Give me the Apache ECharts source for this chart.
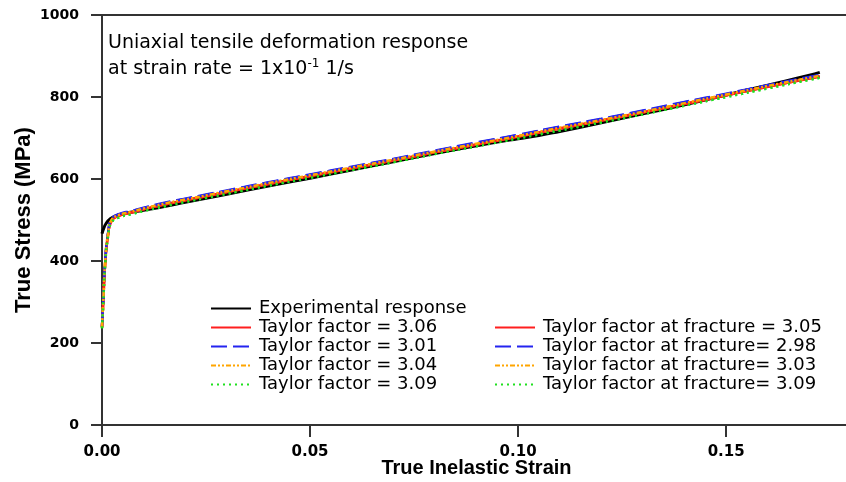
<!DOCTYPE html>
<html>
<head>
<meta charset="utf-8">
<script src="https://cdn.jsdelivr.net/npm/echarts@6/dist/echarts.min.js"></script>
<style>
html,body{margin:0;padding:0;background:#fff;}
#chart{width:846px;height:482px;}
</style>
</head>
<body>
<div id="chart"></div>
<script>
// Experimental response
const expX = [0, 0.0005, 0.001, 0.002, 0.003, 0.005, 0.01, 0.015, 0.02, 0.025, 0.03, 0.04, 0.05, 0.06, 0.07, 0.08, 0.09, 0.095, 0.10, 0.105, 0.11, 0.12, 0.13, 0.14, 0.15, 0.16, 0.17, 0.1725];
const expY = [467, 482, 492, 503, 509, 515, 524, 533, 543, 553, 563, 583, 602, 622, 642, 662, 681, 690, 698, 706, 716, 737, 759, 781, 805, 829, 853, 860];

// Simulated responses (shared strain points)
const simX = [0, 0.0003, 0.0008, 0.0015, 0.0023, 0.004, 0.007, 0.01, 0.015, 0.02, 0.025, 0.03, 0.04, 0.05, 0.06, 0.07, 0.08, 0.09, 0.10, 0.11, 0.12, 0.13, 0.14, 0.15, 0.16, 0.17, 0.1725];
const tf306 = [238, 300, 400, 467, 498, 510, 518, 526, 538, 548, 558, 568, 588, 607, 626, 645, 665, 684, 703, 723, 742, 762, 783, 804, 825, 845, 850];
const tf301 = [240, 302, 404, 470, 501, 513, 521, 529, 541, 551, 561, 571, 591, 610, 629, 648, 668, 688, 707, 727, 746, 766, 787, 807, 828, 848, 853];
const tf304 = [239, 301, 402, 468, 499, 511, 519, 527, 539, 549, 559, 569, 589, 608, 627, 646, 666, 685, 704, 724, 743, 763, 784, 805, 826, 846, 851];
const tf309 = [236, 297, 396, 463, 494, 506, 514, 522, 533, 544, 554, 564, 584, 603, 622, 641, 661, 680, 699, 718, 738, 758, 779, 800, 821, 842, 847];
const tff305 = [238, 300, 401, 467, 498, 510, 518, 526, 538, 548, 558, 568, 588, 607, 626, 645, 665, 684, 704, 723, 743, 763, 783, 804, 825, 845, 850];
const tff298 = [241, 303, 405, 471, 502, 514, 522, 530, 542, 552, 562, 572, 592, 611, 630, 649, 669, 689, 708, 728, 747, 767, 788, 808, 829, 849, 854];
const tff303 = [239, 301, 403, 469, 500, 512, 520, 528, 540, 550, 560, 570, 590, 609, 628, 647, 667, 686, 705, 725, 744, 764, 785, 806, 827, 847, 852];
const tff309 = [236, 297, 397, 463, 494, 506, 514, 522, 534, 544, 554, 564, 584, 603, 622, 641, 661, 680, 699, 719, 738, 758, 779, 800, 821, 842, 847];

const leftNames = ['Experimental response', 'Taylor factor = 3.06', 'Taylor factor = 3.01', 'Taylor factor = 3.04', 'Taylor factor = 3.09'];
const rightNames = ['Taylor factor at fracture = 3.05', 'Taylor factor at fracture= 2.98', 'Taylor factor at fracture= 3.03', 'Taylor factor at fracture= 3.09'];
const xTicks = [0, 0.05, 0.10, 0.15];
const yTicks = [0, 200, 400, 600, 800, 1000];

const zip = (xs, ys) => xs.map((x, i) => [x, ys[i]]);

const RED = '#ff1f1f', BLUE = '#2424f0', ORANGE = '#ffa500', GREEN = '#1fe01f';
const styles = [
  {color: RED, type: 'solid'},
  {color: BLUE, type: [16, 6]},
  {color: ORANGE, type: [5, 2, 2, 2, 2, 2]},
  {color: GREEN, type: [2, 4]}
];
const simSets = [tf306, tf301, tf304, tf309, tff305, tff298, tff303, tff309];
const simNames = leftNames.slice(1).concat(rightNames);

const series = [{
  name: leftNames[0], type: 'line', symbol: 'none', smooth: true, z: 2,
  data: zip(expX, expY),
  lineStyle: {color: '#000', width: 3}, itemStyle: {color: '#000'}
}];
simSets.forEach((ys, i) => {
  const st = styles[i % 4];
  series.push({
    name: simNames[i], type: 'line', symbol: 'none', smooth: true, z: 3,
    data: zip(simX, ys),
    lineStyle: {color: st.color, width: 2.5, type: st.type},
    itemStyle: {color: st.color}
  });
});

const FONT = 'Liberation Sans';
const WIDE = 'DejaVu Sans';
const legendText = {fontFamily: WIDE, fontSize: 18, color: '#000', lineHeight: 19, padding: [0, 0, 0, 3]};
const legendBase = {orient: 'vertical', padding: 0, itemWidth: 40, itemHeight: 14, itemGap: 0,
  textStyle: legendText, selectedMode: false, itemStyle: {opacity: 0}};

const chart = echarts.init(document.getElementById('chart'), null, {renderer: 'canvas'});
chart.setOption({
  animation: false,
  backgroundColor: '#fff',
  grid: {left: 102, width: 749, top: 15, bottom: 57, containLabel: false, outerBoundsMode: 'none'},
  legend: [
    Object.assign({}, legendBase, {data: leftNames, left: 210, top: 299}),
    Object.assign({}, legendBase, {data: rightNames, left: 494, top: 318})
  ],
  xAxis: [{
    type: 'value', min: 0, max: 0.18, interval: 0.05,
    name: 'True Inelastic Strain', nameLocation: 'middle', nameGap: 33, nameMoveOverlap: false,
    nameTextStyle: {fontFamily: FONT, fontSize: 20, fontWeight: 'bold', color: '#000'},
    axisLine: {show: true, lineStyle: {color: '#333', width: 2}},
    axisTick: {show: true, length: 12, lineStyle: {color: '#333', width: 2}},
    axisLabel: {fontFamily: WIDE, fontSize: 15, fontWeight: 'bold', color: '#000', margin: 20,
      formatter: v => xTicks.some(t => Math.abs(t - v) < 1e-9) ? v.toFixed(2) : ''},
    splitLine: {show: false}
  }, {
    type: 'value', position: 'top', min: 0, max: 0.18,
    axisLine: {show: true, onZero: false, lineStyle: {color: '#333', width: 2}},
    axisTick: {show: false}, axisLabel: {show: false}, splitLine: {show: false}
  }],
  yAxis: {
    type: 'value', min: 0, max: 1000, interval: 200, offset: 2,
    name: 'True Stress (MPa)', nameLocation: 'middle', nameGap: 65, nameRotate: 90, nameMoveOverlap: false,
    nameTextStyle: {fontFamily: FONT, fontSize: 22, fontWeight: 'bold', color: '#000'},
    axisLine: {show: true, lineStyle: {color: '#333', width: 2}},
    axisTick: {show: true, length: 11, lineStyle: {color: '#333', width: 2}},
    axisLabel: {fontFamily: WIDE, fontSize: 14, fontWeight: 'bold', color: '#000', margin: 21,
      formatter: v => yTicks.includes(v) ? String(v) : ''},
    splitLine: {show: false}
  },
  graphic: [
    {type: 'text', left: 108, top: 34, style: {text: 'Uniaxial tensile deformation response', fontFamily: WIDE, fontSize: 19, fill: '#000'}},
    {type: 'text', left: 108, top: 58, style: {
      text: '{n|at strain rate = 1x10}{s|-1}{n| 1/s}',
      rich: {n: {fontFamily: WIDE, fontSize: 19, fill: '#000', color: '#000'},
             s: {fontFamily: WIDE, fontSize: 12, fill: '#000', color: '#000', verticalAlign: 'top', padding: [0, 0, 10, 0]}},
      fontFamily: WIDE, fontSize: 19, fill: '#000'}}
  ],
  series: series
});
</script>
</body>
</html>
